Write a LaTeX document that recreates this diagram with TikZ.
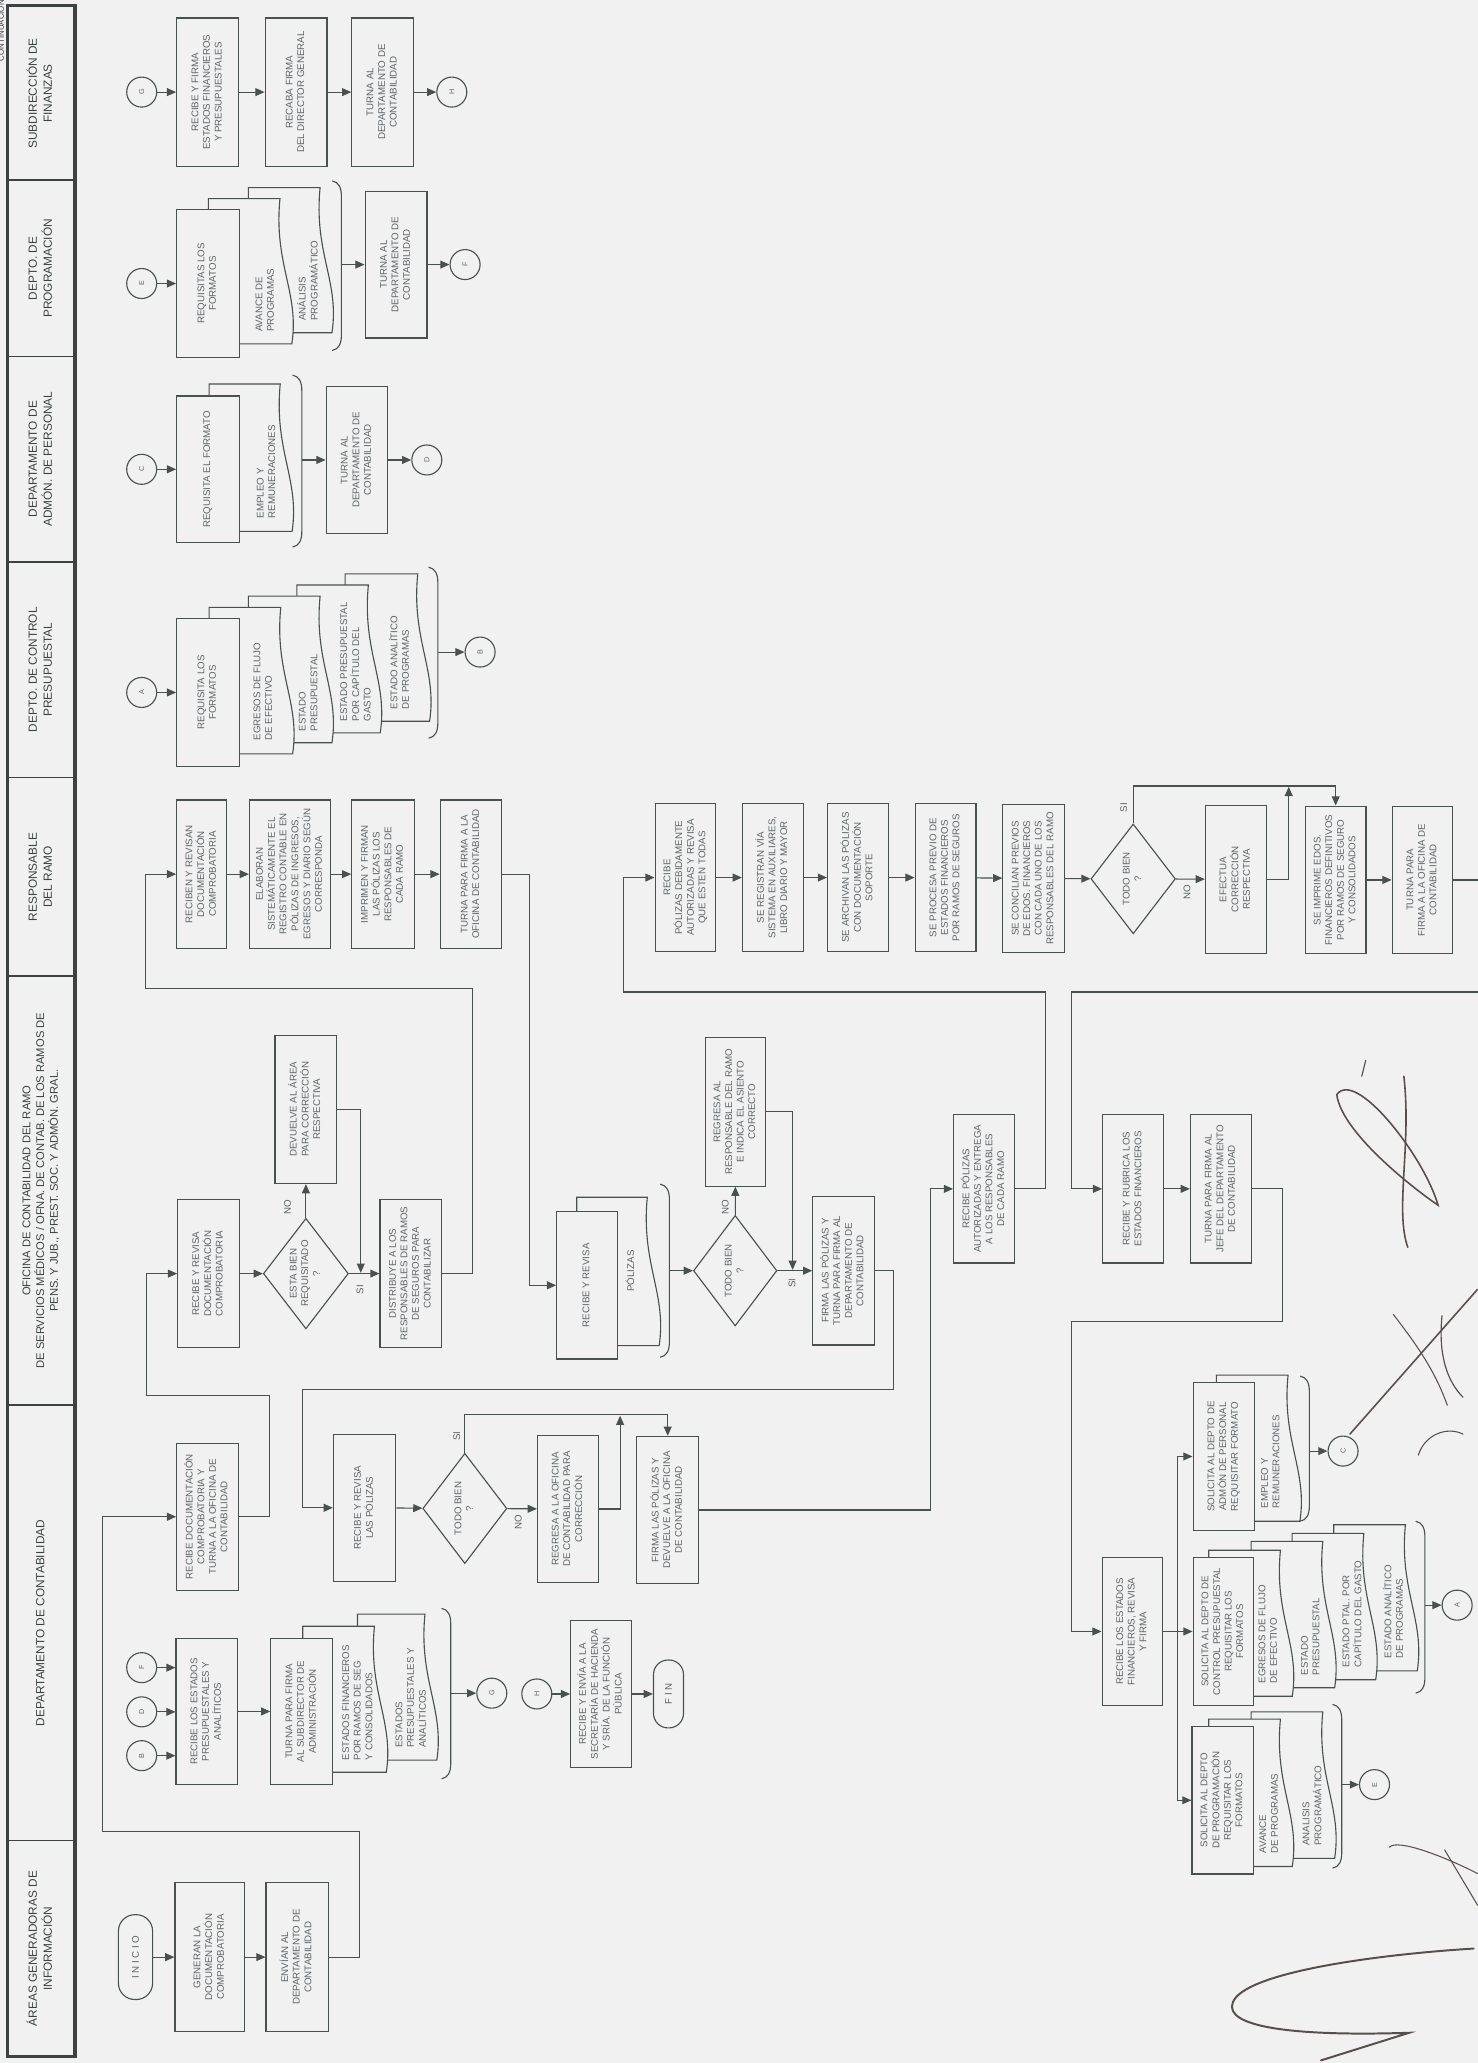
\documentclass[tikz,border=0pt]{standalone}
\usepackage{fontspec}
\setmainfont{Liberation Sans}
\usepackage{graphicx}
\usetikzlibrary{arrows.meta,shapes.geometric}
\definecolor{bgc}{HTML}{F1F1F1}
\definecolor{lnc}{HTML}{485050}
\definecolor{txc}{HTML}{5E6467}
\definecolor{hdc}{HTML}{3C4242}
\definecolor{sgc}{HTML}{5A4E4C}
\newcommand{\bxf}{\fontsize{7.4}{8.8}\selectfont}
\newcommand{\hdf}{\fontsize{9}{11.4}\selectfont}
\newcommand{\rtx}[1]{\rotatebox{90}{\begin{tabular}{@{}c@{}}#1\end{tabular}}}
\newcommand{\rlx}[1]{\rotatebox{90}{\begin{tabular}{@{}l@{}}#1\end{tabular}}}
\newcommand{\bxn}[6]{\node[bx,minimum width=#4pt,minimum height=#5pt] (#1) at (#2,#3) {\rtx{#6}};}
\newcommand{\docshp}[4]{\filldraw[docsty] (#1,#3) -- ({#2-9},#3) .. controls ({#2-14},{#3+0.45*(#4-#3)}) and ({#2+6},{#4-0.35*(#4-#3)}) .. (#2,#4) -- (#1,#4) -- cycle;}
\newcommand{\brk}[3]{\draw[brsty] ({#1-7},#2) .. controls ({#1-2},{#2+1}) and (#1,{#2+5}) .. (#1,{#2+12}) -- (#1,{#3-12}) .. controls (#1,{#3-5}) and ({#1-2},{#3-1}) .. ({#1-7},#3);}
\newcommand{\dtx}[4]{\node[txt,anchor=south] (#1) at (#2,#3) {\rlx{#4}};}
\begin{document}
\begin{tikzpicture}[x=1pt,y=-1pt,
 bx/.style={draw=lnc,fill=bgc,line width=0.85pt,inner sep=0pt,text=txc,font=\bxf},
 cir/.style={draw=lnc,fill=bgc,circle,line width=0.85pt,minimum size=22.8pt,inner sep=0pt,text=txc,font=\fontsize{5.5}{6}\selectfont},
 dia/.style={draw=lnc,fill=bgc,diamond,line width=0.85pt,inner sep=0pt},
 term/.style={draw=lnc,fill=bgc,line width=0.85pt,inner sep=0pt,text=txc,font=\bxf},
 txt/.style={inner sep=0pt,text=txc,font=\bxf},
 hd/.style={inner sep=0pt,text=hdc,font=\hdf},
 docsty/.style={draw=lnc,fill=bgc,line width=0.85pt},
 brsty/.style={draw=lnc,line width=0.85pt},
 arr/.style={draw=lnc,line width=0.85pt,-{Triangle[length=7pt,width=6pt]}},
 ln/.style={draw=lnc,line width=0.85pt},
 sig/.style={draw=sgc,line width=1.2pt,line cap=round}]
\useasboundingbox (0,0) rectangle (1123,1568);
\fill[bgc] (0,0) rectangle (1123,1568);

% ---------------- header column ----------------
\node[inner sep=0pt,text=hdc,font=\fontsize{6}{7}\selectfont,anchor=north] (cont) at (0.3,0) {\rotatebox{90}{CONTINUACIÓN}};
\draw[hdc,line width=2.3pt] (6,4.5) rectangle (57,1563);
\foreach \yy in {137,271,427,591,742,1068,1399} \draw[hdc,line width=1.2pt] (6,\yy) -- (57,\yy);
\node[hd] (h1) at (31.5,71) {\rtx{SUBDIRECCIÓN DE\\FINANZAS}};
\node[hd] (h2) at (31.5,204) {\rtx{DEPTO. DE\\PROGRAMACIÓN}};
\node[hd] (h3) at (31.5,349) {\rtx{DEPARTAMENTO DE\\ADMÓN. DE PERSONAL}};
\node[hd] (h4) at (31.5,509) {\rtx{DEPTO. DE CONTROL\\PRESUPUESTAL}};
\node[hd] (h5) at (31.5,666.5) {\rtx{RESPONSABLE\\DEL RAMO}};
\node[hd,font=\fontsize{8.5}{10.2}\selectfont] (h6) at (31.5,905) {\rtx{OFICINA DE CONTABILIDAD DEL RAMO\\DE SERVICIOS MÉDICOS / OFNA. DE CONTAB. DE LOS RAMOS DE\\PENS. Y JUB., PREST. SOC. Y ADMÓN. GRAL.}};
\node[hd] (h7) at (31.5,1233.5) {\rtx{DEPARTAMENTO DE CONTABILIDAD}};
\node[hd] (h8) at (31.5,1481) {\rtx{ÁREAS GENERADORAS DE\\INFORMACIÓN}};

% ---------------- Subdireccion de finanzas ----------------
\node[cir] (cG1) at (107.7,70) {\rotatebox{90}{G}};
\bxn{s1}{157.8}{70}{47}{112.7}{RECIBE Y FIRMA\\ESTADOS FINANCIEROS\\Y PRESUPUESTALES}
\bxn{s2}{225}{70}{47}{112.7}{RECABA FIRMA\\DEL DIRECTOR GENERAL}
\bxn{s3}{290.9}{70}{47}{112.7}{TURNA AL\\DEPARTAMENTO DE\\CONTABILIDAD}
\node[cir] (cH1) at (343.4,70) {\rotatebox{90}{H}};

% ---------------- Depto de programacion ----------------
\node[cir] (cE1) at (107.7,215.5) {\rotatebox{90}{E}};
\docshp{188.8}{252.3}{142.6}{252.9}
\dtx{pt2}{235}{243.9}{ANÁLISIS\\PROGRAMÁTICO}
\docshp{158.4}{221.8}{151}{261.4}
\dtx{pt1}{202}{252.4}{AVANCE DE\\PROGRAMAS}
\bxn{p1}{158}{215.5}{47.4}{112}{REQUISITAS LOS\\FORMATOS}
\brk{259.5}{137.5}{266.4}
\bxn{p2}{301}{201.1}{47}{111.6}{TURNA AL\\DEPARTAMENTO DE\\CONTABILIDAD}
\node[cir] (cF1) at (353.5,201.1) {\rotatebox{90}{F}};

% ---------------- Admon de personal ----------------
\node[cir] (cC1) at (107.7,356.7) {\rotatebox{90}{C}};
\docshp{158.9}{222}{291.9}{403.9}
\dtx{at1}{203}{394}{EMPLEO Y\\REMUNERACIONES}
\bxn{a1}{158}{356.7}{47.4}{111.4}{REQUISITA EL FORMATO}
\brk{229.4}{285.1}{415.8}
\bxn{a2}{271.3}{349.6}{46.8}{112}{TURNA AL\\DEPARTAMENTO DE\\CONTABILIDAD}
\node[cir] (cD1) at (324.4,349.6) {\rotatebox{90}{D}};

% ---------------- Control presupuestal ----------------
\node[cir] (cA1) at (107.7,526.3) {\rotatebox{90}{A}};
\docshp{262.3}{326.5}{436.2}{548.2}
\dtx{ct4}{304.5}{539.2}{ESTADO ANALÍTICO\\DE PROGRAMAS}
\docshp{225.6}{289}{444.6}{557}
\dtx{ct3}{271}{548.5}{ESTADO PRESUPUESTAL\\POR CAPÍTULO DEL\\GASTO}
\docshp{188.8}{252.3}{453.1}{564.5}
\dtx{ct2}{235}{556}{ESTADO\\PRESUPUESTAL}
\docshp{158.9}{222.4}{461.6}{573}
\dtx{ct1}{200.5}{563}{EGRESOS DE FLUJO\\DE EFECTIVO}
\bxn{c1}{158}{526.3}{47.4}{112.4}{REQUISITA LOS\\FORMATOS}
\brk{332.8}{431.1}{561.1}
\node[cir] (cB1) at (364.9,495.6) {\rotatebox{90}{B}};

% ---------------- Responsable del ramo ----------------
\bxn{r1}{153.3}{664.4}{38}{112.7}{RECIBEN Y REVISAN\\DOCUMENTACIÓN\\COMPROBATORIA}
\bxn{r2}{220.5}{664.4}{61.8}{112.7}{ELABORAN\\SISTEMÁTICAMENTE EL\\REGISTRO CONTABLE EN\\PÓLIZAS DE INGRESOS,\\EGRESOS Y DIARIO SEGÚN\\CORRESPONDA}
\bxn{r3}{291.1}{664.4}{47.4}{112.7}{IMPRIMEN Y FIRMAN\\LAS PÓLIZAS LOS\\RESPONSABLES DE\\CADA RAMO}
\bxn{r4}{358}{664.4}{46.9}{112.7}{TURNA PARA FIRMA A LA\\OFICINA DE CONTABILIDAD}
\bxn{q1}{521}{667}{46.2}{112.5}{RECIBE\\PÓLIZAS DEBIDAMENTE\\AUTORIZADAS Y REVISA\\QUE ESTEN TODAS}
\bxn{q2}{587.5}{667}{46.4}{112.5}{SE REGISTRAN VÍA\\SISTEMA EN AUXILIARES,\\LIBRO DIARIO Y MAYOR}
\bxn{q3}{652.3}{667}{46.6}{112.5}{SE ARCHIVAN LAS PÓLIZAS\\CON DOCUMENTACIÓN\\SOPORTE}
\bxn{q4}{718.7}{667}{46.2}{112.5}{SE PROCESA PREVIO DE\\ESTADOS FINANCIEROS\\POR RAMOS DE SEGUROS}
\bxn{q5}{785.6}{667.7}{46.7}{112.6}{SE CONCILIAN PREVIOS\\DE EDOS. FINANCIEROS\\CON CADA UNO DE LOS\\RESPONSABLES DEL RAMO}
\node[dia,minimum width=64.2pt,minimum height=83.5pt] (qd) at (861.3,668) {};
\node[txt] (qdt) at (qd.center) {\rtx{TODO BIEN\\?}};
\bxn{q6}{939.3}{668.3}{46.3}{112.7}{EFECTUA\\CORRECCIÓN\\RESPECTIVA}
\bxn{q7}{1015.2}{668.8}{46.1}{112.3}{SE IMPRIME EDOS.\\FINANCIEROS DEFINITIVOS\\POR RAMOS DE SEGURO\\Y CONSOLIDADOS}
\bxn{q8}{1081.2}{668.8}{46.1}{112.3}{TURNA PARA\\FIRMA A LA OFICINA DE\\CONTABILIDAD}

% ---------------- Oficina de contabilidad del ramo ----------------
\bxn{o1}{158.5}{968}{46.9}{112.7}{RECIBE Y REVISA\\DOCUMENTACIÓN\\COMPROBATORIA}
\node[dia,minimum width=64.6pt,minimum height=84pt] (od) at (232.5,968) {};
\node[txt] (odt) at (od.center) {\rtx{ESTA BIEN\\REQUISITADO\\?}};
\bxn{o2}{232.5}{843.2}{46.9}{112.7}{DEVUELVE AL ÁREA\\PARA CORRECCIÓN\\RESPECTIVA}
\bxn{o3}{312.3}{968}{46.9}{112.7}{DISTRIBUYE A LOS\\RESPONSABLES DE RAMOS\\DE SEGUROS PARA\\CONTABILIZAR}
\docshp{438.4}{501}{910}{1022.7}
\node[txt] (ot1) at (480,966) {\rtx{PÓLIZAS}};
\bxn{o4}{446.2}{976.9}{46.1}{112}{RECIBE Y REVISA}
\brk{508.8}{900}{1031.6}
\node[dia,minimum width=63.4pt,minimum height=84pt] (od2) at (558.8,965.8) {};
\node[txt] (od2t) at (od2.center) {\rtx{TODO BIEN\\?}};
\bxn{o5}{559}{845}{46.1}{113}{REGRESA AL\\RESPONSABLE DEL RAMO\\E INDICA EL ASIENTO\\CORRECTO}
\bxn{o6}{641.1}{965.8}{46.7}{113}{FIRMA LAS PÓLIZAS Y\\TURNA PARA FIRMA AL\\DEPARTAMENTO DE\\CONTABILIDAD}
\bxn{o7}{748}{903.6}{46.4}{112.7}{RECIBE PÓLIZAS\\AUTORIZADAS Y ENTREGA\\A LOS RESPONSABLES\\DE CADA RAMO}
\bxn{o8}{861.3}{903.6}{46.4}{112.7}{RECIBE Y RUBRICA LOS\\ESTADOS FINANCIEROS}
\bxn{o9}{928}{903.6}{46.4}{112.7}{TURNA PARA FIRMA AL\\JEFE DEL DEPARTAMENTO\\DE CONTABILIDAD}

% ---------------- Departamento de contabilidad ----------------
\bxn{d1}{157.8}{1152.8}{46.9}{112}{RECIBE DOCUMENTACIÓN\\COMPROBATORIA Y\\TURNA A LA OFICINA DE\\CONTABILIDAD}
\node[cir] (cF2) at (107.7,1267.5) {\rotatebox{90}{F}};
\node[cir] (cD2) at (107.7,1301.1) {\rotatebox{90}{D}};
\node[cir] (cB2) at (107.7,1334.4) {\rotatebox{90}{B}};
\bxn{d2}{157.1}{1300.8}{46.6}{111.3}{RECIBE LOS ESTADOS\\PRESUPUESTALES Y\\ANALÍTICOS}
\docshp{271.7}{332}{1226.8}{1337.8}
\dtx{dt2}{313}{1328.5}{ESTADOS\\PRESUPUESTALES Y\\ANALÍTICOS}
\docshp{230.1}{293.6}{1236}{1347}
\dtx{dt1}{272.4}{1338}{ESTADOS FINANCIEROS\\POR RAMOS DE SEG\\Y CONSOLIDADOS}
\bxn{d3}{229.3}{1300.8}{46.9}{111.3}{TURNA PARA FIRMA\\AL SUBDIRECTOR DE\\ADMINISTRACIÓN}
\brk{342.6}{1222.4}{1352}
\node[cir] (cG2) at (373.8,1286.9) {\rotatebox{90}{G}};
\node[cir] (cH2) at (408,1287.5) {\rotatebox{90}{H}};
\bxn{d7}{457}{1287.5}{46.4}{112.1}{RECIBE Y ENVÍA A LA\\SECRETARÍA DE HACIENDA\\Y SRÍA. DE LA FUNCIÓN\\PÚBLICA}
\node[term,minimum width=22.8pt,minimum height=51.6pt,rounded corners=11pt] (fin) at (508.1,1287.5) {\rotatebox{90}{F I N}};
\bxn{d4}{277.1}{1146}{47.4}{112}{RECIBE Y REVISA\\LAS PÓLIZAS}
\node[dia,minimum width=63.9pt,minimum height=83.8pt] (dd) at (353.3,1146.5) {};
\node[txt] (ddt) at (dd.center) {\rtx{TODO BIEN\\?}};
\bxn{d5}{431.7}{1146.9}{46.4}{111.7}{REGRESA A LA OFICINA\\DE CONTABILIDAD PARA\\CORRECCIÓN}
\bxn{d6}{507.5}{1147.7}{46.9}{112}{FIRMA LAS PÓLIZAS Y\\DEVUELVE A LA OFICINA\\DE CONTABILIDAD}
\bxn{d8}{860.7}{1240}{46.1}{112}{RECIBE LOS ESTADOS\\FINANCIEROS, REVISA\\Y FIRMA}
% solicita admon
\docshp{924.5}{988}{1045.2}{1156.2}
\dtx{et1}{966.3}{1146.5}{EMPLEO Y\\REMUNERACIONES}
\bxn{d9}{930.1}{1107}{46.6}{112}{SOLICITA AL DEPTO DE\\ADMÓN DE PERSONAL\\REQUISITAR FORMATO}
\brk{995.2}{1045.9}{1156.2}
\node[cir] (cC2) at (1020.8,1102.9) {\rotatebox{90}{C}};
% solicita control presupuestal
\docshp{1013.7}{1077.2}{1158.9}{1269.9}
\dtx{gt4}{1060}{1260.5}{ESTADO ANALÍTICO\\DE PROGRAMAS}
\docshp{982.1}{1045.6}{1165.4}{1276.7}
\dtx{gt3}{1028.4}{1267.5}{ESTADO PTAL. POR\\CAPÍTULO DEL GASTO}
\docshp{950.9}{1014.4}{1171.5}{1282.8}
\dtx{gt2}{996.6}{1273.5}{ESTADO\\PRESUPUESTAL}
\docshp{918.7}{982.2}{1178.3}{1289.2}
\dtx{gt1}{964.4}{1279.5}{EGRESOS DE FLUJO\\DE EFECTIVO}
\bxn{d10}{929.9}{1240}{46.1}{112}{SOLICITA AL DEPTO DE\\CONTROL PRESUPUESTAL\\REQUISITAR LOS\\FORMATOS}
\brk{1083}{1156.2}{1286.9}
\node[cir] (cA2) at (1107.5,1220) {\rotatebox{90}{A}};
% solicita programacion
\docshp{950.9}{1014.4}{1301.1}{1412.5}
\dtx{ht2}{998}{1403}{ANALISIS\\PROGRAMÁTICO}
\docshp{918.7}{982.2}{1306.6}{1418.6}
\dtx{ht1}{965}{1408.8}{AVANCE\\DE PROGRAMAS}
\bxn{d11}{929.2}{1368.3}{46.4}{112}{SOLICITA AL DEPTO\\DE PROGRAMACIÓN\\REQUISITAR LOS\\FORMATOS}
\brk{1019.8}{1295.4}{1419.9}
\node[cir] (cE2) at (1044.7,1356.4) {\rotatebox{90}{E}};

% ---------------- Areas generadoras ----------------
\node[term,minimum width=26pt,minimum height=64.5pt,rounded corners=12.5pt] (inicio) at (103,1487.5) {\rotatebox{90}{I N I C I O}};
\bxn{g1}{159.4}{1487.5}{52.8}{113.7}{GENERAN LA\\DOCUMENTACIÓN\\COMPROBATORIA}
\bxn{g2}{225.9}{1487.5}{47.4}{113.7}{ENVÍAN AL\\DEPARTAMENTO DE\\CONTABILIDAD}

% ---------------- labels ----------------
\node[txt] (l1) at (218.5,917.5) {\rotatebox{90}{NO}};
\node[txt] (l2) at (273.7,980.3) {\rotatebox{90}{SI}};
\node[txt] (l3) at (551.2,917.5) {\rotatebox{90}{NO}};
\node[txt] (l4) at (601.9,975.2) {\rotatebox{90}{SI}};
\node[txt] (l5) at (854.1,613.7) {\rotatebox{90}{SI}};
\node[txt] (l6) at (902.2,678.2) {\rotatebox{90}{NO}};
\node[txt] (l7) at (347.2,1091.7) {\rotatebox{90}{SI}};
\node[txt] (l8) at (394,1156.9) {\rotatebox{90}{NO}};

% ---------------- connectors ----------------
\draw[arr] (cG1) -- (s1);
\draw[arr] (s1) -- (s2);
\draw[arr] (s2) -- (s3);
\draw[arr] (s3) -- (cH1);
\draw[arr] (cE1) -- (p1);
\coordinate (pbm) at (259.5,201.1);
\draw[arr] (pbm) -- (p2);
\draw[arr] (p2) -- (cF1);
\draw[arr] (cC1) -- (a1);
\coordinate (abm) at (229.4,349.6);
\draw[arr] (abm) -- (a2);
\draw[arr] (a2) -- (cD1);
\draw[arr] (cA1) -- (c1);
\coordinate (cbm) at (332.8,495.6);
\draw[arr] (cbm) -- (cB1);
\draw[arr] (r1) -- (r2);
\draw[arr] (r2) -- (r3);
\draw[arr] (r3) -- (r4);
\draw[arr] (r4) -| (402.4,976.9) -- (o4);
\draw[arr] (o3) -| (359.4,751.2) -| (110.7,664.4) -- (r1);
\draw[arr] (d1) -| (204.8,1060.5) -| (111.5,968) -- (o1);
\draw[arr] (g2) -| (273.2,1392.1) -| (77.8,1152.8) -- (d1);
\draw[arr] (inicio) -- (g1);
\draw[arr] (g1) -- (g2);
\draw[arr] (o1) -- (od);
\draw[arr] (od) -- (o2);
\draw[arr] (od) -- (o3);
\draw[arr] (o2) -| (274.2,967.4);
\coordinate (obm) at (508.8,965.8);
\draw[arr] (obm) -- (od2);
\draw[arr] (od2) -- (o5);
\draw[arr] (od2) -- (o6);
\draw[arr] (o5) -| (602.4,965.2);
\draw[arr] (o6) -| (679.2,1056) -| (229.9,1146) -- (d4);
\draw[arr] (d4) -- (dd);
\draw[arr] (dd) -- (d5);
\draw[arr] (dd) |- (507.5,1075.4) -- (d6);
\draw[arr] (d5) -| (471.3,1076);
\draw[arr] (d6) -| (707.5,903.6) -- (o7);
\draw[arr] (o7) -| (794.5,754) -| (473.9,667) -- (q1);
\draw[arr] (q1) -- (q2);
\draw[arr] (q2) -- (q3);
\draw[arr] (q3) -- (q4);
\draw[arr] (q4) -- (q5);
\draw[arr] (q5) -- (qd);
\draw[arr] (qd) -- (q6);
\draw[arr] (qd) |- (1015.2,597.4) -- (q7);
\draw[arr] (q6) -| (979.5,598);
\draw[arr] (q7) -- (q8);
\coordinate (offout) at (1123,668.8);
\draw[ln] (q8) -- (offout);
\coordinate (offin) at (1123,754);
\draw[arr] (offin) -| (814.3,903.6) -- (o8);
\draw[arr] (o8) -- (o9);
\draw[arr] (o9) -| (974.5,1004.1) -| (814.3,1240) -- (d8);
\coordinate (dist) at (895.1,1240);
\draw[ln] (d8) -- (dist);
\draw[arr] (dist) |- (d9);
\draw[arr] (dist) -- (d10);
\draw[arr] (dist) |- (d11);
\coordinate (ebm) at (995.2,1102.9);
\draw[arr] (ebm) -- (cC2);
\coordinate (gbm) at (1083,1220);
\draw[arr] (gbm) -- (cA2);
\coordinate (hbm) at (1019.8,1356.4);
\draw[arr] (hbm) -- (cE2);
\draw[arr] (cF2) -- (cF2 -| d2.west);
\draw[arr] (cD2) -- (cD2 -| d2.west);
\draw[arr] (cB2) -- (cB2 -| d2.west);
\draw[arr] (d2) -- (d3);
\coordinate (dbm) at (342.6,1286.9);
\draw[arr] (dbm) -- (cG2);
\draw[arr] (cH2) -- (d7);
\draw[arr] (d7) -- (fin);

% ---------------- handwritten marks ----------------
\draw[sig] (1016,832) .. controls (1030,812) and (1082,878) .. (1093,916) .. controls (1078,906) and (1020,862) .. (1016,832);
\draw[sig] (1067,818) .. controls (1073,870) and (1060,920) .. (1070,948);
\draw[sig,line width=0.9pt] (1038,806) -- (1035,818);
\draw[sig] (1026,1090) -- (1123,980);
\draw[sig,line width=0.8pt] (1059,999) .. controls (1075,1020) and (1090,1040) .. (1100,1068);
\draw[sig,line width=0.9pt] (1096,1000) .. controls (1093,1030) and (1100,1050) .. (1112,1062);
\draw[sig,line width=0.8pt] (1078,1106) .. controls (1083,1090) and (1100,1084) .. (1112,1090);
\draw[sig,line width=0.8pt] (1056,1404) .. controls (1062,1397) and (1100,1412) .. (1123,1424);
\draw[sig,line width=0.8pt] (1098,1406) -- (1123,1448);
\draw[sig,line width=1.5pt] (1120,1481) .. controls (1040,1486) and (945,1500) .. (937,1522) .. controls (930,1540) and (980,1548) .. (1071,1545) -- (1004,1566);
\end{tikzpicture}
\end{document}
